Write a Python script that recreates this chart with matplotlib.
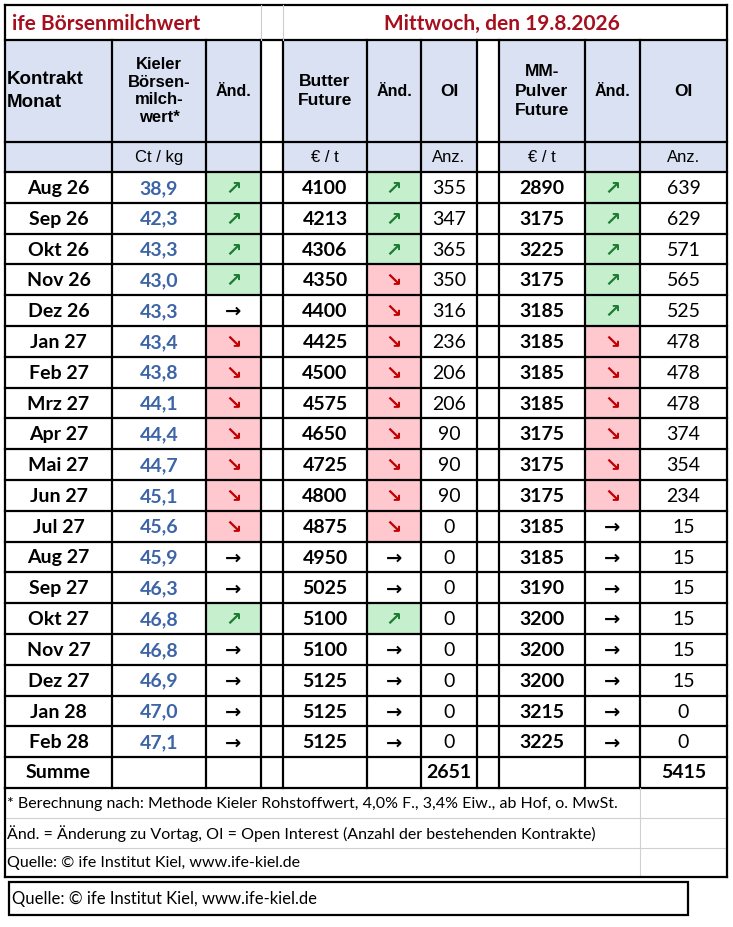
import matplotlib
matplotlib.use("Agg")
import matplotlib.pyplot as plt
from matplotlib.patches import Rectangle

months = ["Aug 26", "Sep 26", "Okt 26", "Nov 26", "Dez 26", "Jan 27", "Feb 27", "Mrz 27",
          "Apr 27", "Mai 27", "Jun 27", "Jul 27", "Aug 27", "Sep 27", "Okt 27", "Nov 27",
          "Dez 27", "Jan 28", "Feb 28"]
kieler = ["38,9", "42,3", "43,3", "43,0", "43,3", "43,4", "43,8", "44,1", "44,4", "44,7",
          "45,1", "45,6", "45,9", "46,3", "46,8", "46,8", "46,9", "47,0", "47,1"]
kieler_chg = ["u", "u", "u", "u", "r", "d", "d", "d", "d", "d", "d", "d", "r", "r", "u", "r", "r", "r", "r"]
butter = [4100, 4213, 4306, 4350, 4400, 4425, 4500, 4575, 4650, 4725, 4800, 4875, 4950, 5025,
          5100, 5100, 5125, 5125, 5125]
butter_chg = ["u", "u", "u", "d", "d", "d", "d", "d", "d", "d", "d", "d", "r", "r", "u", "r", "r", "r", "r"]
butter_oi = [355, 347, 365, 350, 316, 236, 206, 206, 90, 90, 90, 0, 0, 0, 0, 0, 0, 0, 0]
mmp = [2890, 3175, 3225, 3175, 3185, 3185, 3185, 3185, 3175, 3175, 3175, 3185, 3185, 3190,
       3200, 3200, 3200, 3215, 3225]
mmp_chg = ["u", "u", "u", "u", "u", "d", "d", "d", "d", "d", "d", "r", "r", "r", "r", "r", "r", "r", "r"]
mmp_oi = [639, 629, 571, 565, 525, 478, 478, 478, 374, 354, 234, 15, 15, 15, 15, 15, 15, 0, 0]

xs = [5, 112, 206, 261, 283, 367, 421, 477, 499, 585, 640, 727]
gaps = {3, 7}
y_title, y_head, y_unit, y_data = 5, 40, 142, 172
row_h = 30.8
y_sum = y_data + row_h * len(months)
y_foot = y_sum + 31
HEAD_BG = "#d9e1f2"
GREEN_BG, RED_BG = "#c6efce", "#ffc7ce"
arrows = {"u": ("\u2197", "#1e7b34", GREEN_BG), "d": ("\u2198", "#c00000", RED_BG), "r": ("\u2192", "black", None)}
CAL = "Lato"
ARI = "Liberation Sans"

fig = plt.figure(figsize=(7.33, 9.27), dpi=100)
ax = fig.add_axes([0, 0, 1, 1])
ax.set_xlim(0, 733)
ax.set_ylim(927, 0)
ax.axis("off")


def rect(x0, y0, x1, y1, fc="none", ec="none", lw=1.0):
    ax.add_patch(Rectangle((x0, y0), x1 - x0, y1 - y0, facecolor=fc, edgecolor=ec, lw=lw))


def txt(x, y, s, size=13, weight="normal", color="black", ha="center", family=CAL, ls=1.2):
    ax.text(x, y, s, fontsize=size, fontweight=weight, color=color, ha=ha, va="center",
            family=family, linespacing=ls)


def cx(i):
    return (xs[i] + xs[i + 1]) / 2


# header backgrounds
for i in range(11):
    if i not in gaps:
        rect(xs[i], y_head, xs[i + 1], y_data, fc=HEAD_BG)

# title row
txt(12, (y_title + y_head) / 2 + 1, "ife Börsenmilchwert", size=15, weight="bold", color="#a50f1e", ha="left")
txt(502, (y_title + y_head) / 2 + 1, "Mittwoch, den 19.8.2026", size=15, weight="bold", color="#a50f1e")

# header text
hy = (y_head + y_unit) / 2
txt(7, hy, "Kontrakt\nMonat", size=13.5, weight="bold", ha="left", family=ARI, ls=1.45)
txt(cx(1), hy, "Kieler\nBörsen-\nmilch-\nwert*", size=12, weight="bold", family=ARI, ls=1.2)
for i in (2, 5, 9):
    txt(cx(i), hy, "Änd.", size=11.5, weight="bold", family=ARI)
txt(cx(4), hy, "Butter\nFuture", size=12.5, weight="bold", family=ARI, ls=1.4)
txt(cx(6), hy, "OI", size=12.5, weight="bold", family=ARI)
txt(cx(8), hy, "MM-\nPulver\nFuture", size=12.5, weight="bold", family=ARI, ls=1.35)
txt(cx(10), hy, "OI", size=12.5, weight="bold", family=ARI)
uy = (y_unit + y_data) / 2
for i, s in [(1, "Ct / kg"), (4, "€ / t"), (6, "Anz."), (8, "€ / t"), (10, "Anz.")]:
    txt(cx(i), uy, s, size=12, family=ARI)

# data rows
for r, m in enumerate(months):
    y0 = y_data + r * row_h
    yc = y0 + row_h / 2 + 1
    txt(cx(0), yc, m, size=14, weight="bold")
    txt(cx(1), yc, kieler[r], size=14, weight="bold", color="#3c64a6")
    txt(cx(4), yc, str(butter[r]), size=14, weight="bold")
    txt(cx(6), yc, str(butter_oi[r]), size=14)
    txt(cx(8), yc, str(mmp[r]), size=14, weight="bold")
    txt(cx(10), yc, str(mmp_oi[r]), size=14)
    for col, chg in [(2, kieler_chg[r]), (5, butter_chg[r]), (9, mmp_chg[r])]:
        sym, c, bg = arrows[chg]
        if bg:
            rect(xs[col], y0, xs[col + 1], y0 + row_h, fc=bg)
        txt(cx(col), yc, sym, size=14, weight="bold", color=c, family="DejaVu Sans")

# summe row
ys = y_sum + 15.5
txt(cx(0), ys, "Summe", size=14, weight="bold")
txt(cx(6), ys, str(sum(butter_oi)), size=14, weight="bold")
txt(cx(10), ys, str(sum(mmp_oi)), size=14, weight="bold")

# grid lines
for y in [y_head, y_unit] + [y_data + k * row_h for k in range(len(months) + 1)] + [y_foot]:
    ax.plot([xs[0], xs[-1]], [y, y], color="black", lw=1.6)
for i, x in enumerate(xs):
    top = y_title if i in (0, len(xs) - 1) else y_head
    ax.plot([x, x], [top, y_foot], color="black", lw=1.6)
ax.plot([xs[0], xs[-1]], [y_title, y_title], color="black", lw=1.6)
ax.plot([xs[3], xs[3]], [y_title, y_head], color="#cccccc", lw=0.8)
ax.plot([xs[4], xs[4]], [y_title, y_head], color="#cccccc", lw=0.8)

# footnotes
fh = 29.7
notes = ["* Berechnung nach: Methode Kieler Rohstoffwert, 4,0% F., 3,4% Eiw., ab Hof, o. MwSt.",
         "Änd. = Änderung zu Vortag, OI = Open Interest (Anzahl der bestehenden Kontrakte)",
         "Quelle: © ife Institut Kiel, www.ife-kiel.de"]
for k, n in enumerate(notes):
    txt(7, y_foot + fh * k + fh / 2 + 1, n, size=11.5, ha="left")
    if k < 2:
        ax.plot([xs[0], xs[-1]], [y_foot + fh * (k + 1)] * 2, color="#d0d0d0", lw=0.8)
y_end = y_foot + 3 * fh
ax.plot([xs[-2], xs[-2]], [y_foot, y_end], color="#d0d0d0", lw=0.8)
ax.plot([xs[0], xs[0]], [y_foot, y_end], color="black", lw=1.6)
ax.plot([xs[-1], xs[-1]], [y_foot, y_end], color="black", lw=1.6)
ax.plot([xs[0], xs[-1]], [y_end, y_end], color="black", lw=1.6)

# second source box
rect(9, y_end + 5, 688, y_end + 38, ec="black", lw=1.6)
txt(12, y_end + 22, notes[2], size=12, ha="left")

fig.savefig("out.png", dpi=100)
